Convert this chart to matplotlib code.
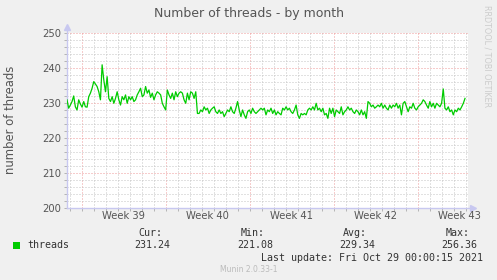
import numpy as np
import matplotlib
matplotlib.use("Agg")
import matplotlib.pyplot as plt
from matplotlib.patches import Rectangle
import matplotlib.transforms as mtransforms

# threads per sample (averaged)
threads = [
    231.0, 228.6, 229.5, 230.5, 232.1, 229.0, 228.1, 231.0, 229.8, 228.9,
    230.5, 229.0, 228.9, 231.9, 232.9, 234.3, 236.2, 235.5, 234.8, 233.3,
    231.0, 241.0, 236.7, 233.3, 237.6, 231.4, 230.5, 231.9, 230.0, 231.4,
    233.3, 231.0, 229.5, 231.9, 231.0, 232.4, 230.0, 231.9, 231.0, 231.9,
    230.5, 231.0, 232.4, 233.3, 234.3, 231.9, 232.4, 234.8, 232.9, 233.8,
    231.7, 232.9, 231.0, 232.4, 233.3, 232.9, 232.4, 230.0, 229.0, 228.1,
    233.8, 232.4, 231.4, 232.9, 231.0, 233.3, 231.9, 232.9, 233.3, 232.9,
    231.0, 230.0, 232.9, 231.0, 233.3, 232.9, 231.4, 233.3, 227.1, 227.1,
    228.1, 227.6, 229.0, 228.1, 228.6, 227.1, 228.1, 228.6, 229.0, 227.6,
    227.1, 228.1, 227.1, 227.6, 226.2, 227.1, 228.1, 227.6, 229.0, 227.6,
    227.1, 228.6, 230.5, 228.1, 226.2, 228.1, 226.7, 225.7, 227.6, 228.1,
    227.1, 228.6, 227.6, 227.1, 227.6, 228.1, 228.6, 228.1, 228.6, 226.7,
    228.1, 227.6, 228.6, 227.1, 228.1, 226.7, 227.6, 227.1,
    226.7, 228.6, 228.1, 229.0, 228.1, 228.6, 227.6, 227.1, 228.1, 229.5,
    226.7, 225.7, 227.1, 226.7, 227.1, 226.7, 228.1, 228.6, 228.1, 229.0,
    228.1, 230.0, 228.1, 228.6, 227.6, 228.6, 226.7, 227.1, 225.7, 228.6,
    227.1, 228.6, 226.2, 228.1, 227.6, 227.1, 229.0, 226.7, 227.6, 228.1,
    229.0, 228.1, 228.6, 227.6, 227.1, 228.1, 227.6, 226.7, 228.1, 226.7,
    227.6, 225.7, 230.5, 230.0, 229.0, 229.5, 228.6, 229.0, 229.5, 229.0,
    230.0, 228.6, 229.5, 228.6, 228.1, 229.5, 228.6, 229.5, 229.0, 230.0,
    228.6, 229.5, 226.7, 230.0, 230.5, 229.0, 227.6, 229.0, 228.6, 230.0,
    228.6, 228.1, 229.0, 229.5, 230.0, 231.0, 230.5, 229.5, 228.6, 230.5,
    229.0, 230.0, 228.6, 230.0, 229.5, 229.0, 230.0, 234.1, 228.6, 228.1,
    229.0, 227.6, 228.1, 226.7, 228.1, 227.6, 228.6, 228.1, 229.0, 230.0,
    231.4,
]
# days relative to monday of week 39 (first and last sample)
t_first, t_last = -1.225, 31.94
week_labels = ["Week 39", "Week 40", "Week 41", "Week 42", "Week 43"]
week_starts = [0, 7, 14, 21, 28]
y_ticks = [200, 210, 220, 230, 240, 250]

legend_heads = ["Cur:", "Min:", "Avg:", "Max:"]
legend_vals = ["231.24", "221.08", "229.34", "256.36"]

t = np.linspace(t_first, t_last, len(threads))

fig = plt.figure(figsize=(4.97, 2.80), dpi=100, facecolor="#F0F0F0")
ax = fig.add_axes([67 / 497, 1 - 208.3 / 280, 401 / 497, 175 / 280])
ax.set_facecolor("white")

txt = "#555555"
axis_col = "#C8C8F0"

# grid
ax.set_xlim(-1.225, 32.19)
ax.set_ylim(200, 250)
ax.set_xticks(week_starts)
ax.set_xticks(np.arange(-1, 33), minor=True)
ax.set_yticks(y_ticks)
ax.set_yticks(np.arange(200, 251, 2), minor=True)
ax.grid(which="minor", color="#C4C4C4", linestyle=(0, (1, 2)), linewidth=0.72)
ax.grid(which="major", color="#EE9A9A", linestyle=(0, (1, 2)), linewidth=0.72)
ax.set_axisbelow(True)

ax.plot(t, threads, color="#00CC00", linewidth=0.9, zorder=3)

for s in ["top", "right"]:
    ax.spines[s].set_visible(False)
for s in ["left", "bottom"]:
    ax.spines[s].set_color(axis_col)
    ax.spines[s].set_linewidth(1.0)
ax.spines["bottom"].set_bounds(-1.225, 32.45)
ax.spines["left"].set_bounds(200, 251.5)

# arrows at the axis ends
ax.plot([0], [1.035], marker="^", markersize=4, color=axis_col,
        transform=ax.transAxes, clip_on=False)
ax.plot([1.012], [0], marker=">", markersize=4, color=axis_col,
        transform=ax.transAxes, clip_on=False)

ax.tick_params(axis="both", which="both", color="#AAAAAA", length=2, width=0.6,
               labelsize=7.2, labelcolor=txt, pad=2)
ax.tick_params(axis="x", which="both", labelbottom=False)
ax.set_yticklabels([str(v) for v in y_ticks])

trans = mtransforms.blended_transform_factory(ax.transData, fig.transFigure)
for ws, lab in zip(week_starts, week_labels):
    ax.text(ws + 3.5, 1 - 216 / 280, lab, transform=trans, ha="center",
            va="center", fontsize=7.2, color=txt)

fig.text(11 / 497, 1 - 120 / 280, "number of threads", rotation=90,
         ha="center", va="center", fontsize=8.4, color=txt)

fig.text(0.5, 1 - 13 / 280, "Number of threads - by month", ha="center",
         va="center", fontsize=9.0, color=txt)
fig.text(487 / 497, 1 - 5 / 280, "RRDTOOL / TOBI OETIKER", rotation=270,
         ha="center", va="top", fontsize=5.8, color="#CCCCCC")

# legend block
mono = "DejaVu Sans Mono"
fig.patches.append(Rectangle((13 / 497, 1 - 249 / 280), 7 / 497, 7 / 280,
                             transform=fig.transFigure, facecolor="#00CC00",
                             edgecolor="none"))
fig.text(27 / 497, 1 - 245.5 / 280, "threads", family=mono, fontsize=7.2,
         color="#333333", va="center")
head_x = [162, 265, 367, 470]
val_x = [170, 273, 375, 477]
for hx, vx, h, v in zip(head_x, val_x, legend_heads, legend_vals):
    fig.text(hx / 497, 1 - 233 / 280, h, family=mono, fontsize=7.2,
             color="#333333", ha="right", va="center")
    fig.text(vx / 497, 1 - 245.5 / 280, v, family=mono, fontsize=7.2,
             color="#333333", ha="right", va="center")
fig.text(483 / 497, 1 - 258 / 280, "Last update: Fri Oct 29 00:00:15 2021",
         family=mono, fontsize=7.2, color="#333333", ha="right", va="center")
fig.text(0.5, 1 - 269 / 280, "Munin 2.0.33-1", ha="center", va="center",
         fontsize=5.5, color="#BBBBBB")

fig.savefig("out.png", dpi=100, facecolor=fig.get_facecolor())
